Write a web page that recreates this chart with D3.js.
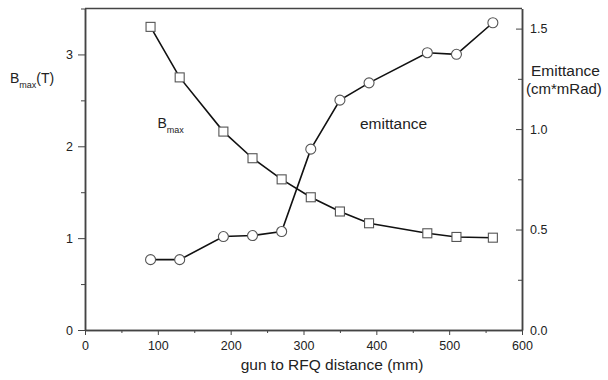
<!DOCTYPE html>
<html>
<head>
<meta charset="utf-8">
<script src="https://cdn.jsdelivr.net/npm/d3@7"></script>
<style>
  body { margin: 0; background: #fff; }
  text { font-family: "Liberation Sans", Arial, sans-serif; fill: #222; }
  .axis path, .axis line { stroke: #444; }
</style>
</head>
<body>
<div id="chart"></div>
<script>
// distance from gun to RFQ (mm)
const distance = [90, 130, 190, 230, 270, 310, 350, 390, 470, 510, 560];
// peak field B_max (T), left axis
const bmax = [3.30, 2.75, 2.16, 1.87, 1.64, 1.445, 1.29, 1.162, 1.053, 1.013, 1.005];
// emittance (cm*mRad), right axis
const emittance = [0.35, 0.35, 0.465, 0.47, 0.49, 0.90, 1.144, 1.23, 1.38, 1.372, 1.529];

const xTicks = [0, 100, 200, 300, 400, 500, 600];
const leftTicks = [0, 1, 2, 3];
const rightTicks = [0, 0.5, 1.0, 1.5];

const svgWidth = 608, svgHeight = 380;
const margin = { top: 8.5, right: 86, bottom: 50, left: 85 };
const width = svgWidth - margin.left - margin.right;
const height = svgHeight - margin.top - margin.bottom;

const svg = d3.select("#chart")
  .append("svg")
  .attr("width", svgWidth)
  .attr("height", svgHeight);

const g = svg.append("g")
  .attr("transform", `translate(${margin.left},${margin.top})`);

const x = d3.scaleLinear().domain([0, 600]).range([0, width]);
const yL = d3.scaleLinear().domain([0, 3.5]).range([height, 0]);
const yR = d3.scaleLinear().domain([0, 1.6]).range([height, 0]);

// minor ticks first
g.append("g")
  .attr("class", "axis")
  .attr("transform", `translate(0,${height})`)
  .call(d3.axisBottom(x).tickValues(d3.range(50, 600, 100)).tickSize(3).tickFormat("").tickSizeOuter(0));
g.append("g")
  .attr("class", "axis")
  .call(d3.axisLeft(yL).tickValues([0.5, 1.5, 2.5, 3.5]).tickSize(4).tickFormat("").tickSizeOuter(0));
g.append("g")
  .attr("class", "axis")
  .attr("transform", `translate(${width},0)`)
  .call(d3.axisRight(yR).tickValues([0.25, 0.75, 1.25]).tickSize(-4).tickFormat("").tickSizeOuter(0));

// major axes
g.append("g")
  .attr("class", "axis")
  .attr("transform", `translate(0,${height})`)
  .call(d3.axisBottom(x).tickValues(xTicks).tickSize(5).tickPadding(6.5).tickSizeOuter(0));

g.append("g")
  .attr("class", "axis")
  .call(d3.axisLeft(yL).tickValues(leftTicks).tickSize(7).tickPadding(5).tickFormat(d3.format("d")).tickSizeOuter(0));

g.append("g")
  .attr("class", "axis")
  .attr("transform", `translate(${width},0)`)
  .call(d3.axisRight(yR).tickValues(rightTicks).tickSize(-6).tickPadding(8).tickFormat(d3.format(".1f")).tickSizeOuter(0));

g.selectAll(".axis text").style("font-size", "12.5px").style("fill", "#222");
g.selectAll(".axis path").attr("stroke-width", 1.5);

// top frame line
g.append("line")
  .attr("x1", 0).attr("x2", width)
  .attr("y1", 0).attr("y2", 0)
  .attr("stroke", "#444")
  .attr("stroke-width", 1.5);

// lines
const lineB = d3.line().x((d, i) => x(distance[i])).y(d => yL(d));
const lineE = d3.line().x((d, i) => x(distance[i])).y(d => yR(d));

g.append("path")
  .datum(bmax)
  .attr("d", lineB)
  .attr("fill", "none")
  .attr("stroke", "#111")
  .attr("stroke-width", 1.6);

g.append("path")
  .datum(emittance)
  .attr("d", lineE)
  .attr("fill", "none")
  .attr("stroke", "#111")
  .attr("stroke-width", 1.6);

// markers
const sq = 9;
g.selectAll(".square")
  .data(bmax)
  .join("rect")
  .attr("class", "square")
  .attr("x", (d, i) => x(distance[i]) - sq / 2)
  .attr("y", d => yL(d) - sq / 2)
  .attr("width", sq)
  .attr("height", sq)
  .attr("fill", "#fff")
  .attr("stroke", "#555")
  .attr("stroke-width", 1.1);

g.selectAll(".circle")
  .data(emittance)
  .join("circle")
  .attr("class", "circle")
  .attr("cx", (d, i) => x(distance[i]))
  .attr("cy", d => yR(d))
  .attr("r", 5)
  .attr("fill", "#fff")
  .attr("stroke", "#555")
  .attr("stroke-width", 1.1);

// axis titles
svg.append("text")
  .attr("x", 332)
  .attr("y", 370)
  .attr("text-anchor", "middle")
  .style("font-size", "15.5px")
  .text("gun to RFQ distance (mm)");

const yTitle = svg.append("text")
  .attr("x", 10)
  .attr("y", 83)
  .style("font-size", "14px");
yTitle.append("tspan").text("B");
yTitle.append("tspan").attr("dy", 5).style("font-size", "9px").text("max");
yTitle.append("tspan").attr("dy", -5).text("(T)");

svg.append("text")
  .attr("x", 531)
  .attr("y", 76)
  .style("font-size", "15.5px")
  .text("Emittance");
svg.append("text")
  .attr("x", 526)
  .attr("y", 94)
  .style("font-size", "15px")
  .text("(cm*mRad)");

// series labels
const bLabel = svg.append("text")
  .attr("x", 157.5)
  .attr("y", 128)
  .style("font-size", "14px");
bLabel.append("tspan").text("B");
bLabel.append("tspan").attr("dy", 5).style("font-size", "9px").text("max");

svg.append("text")
  .attr("x", 360)
  .attr("y", 129)
  .style("font-size", "15.5px")
  .text("emittance");
</script>
</body>
</html>
